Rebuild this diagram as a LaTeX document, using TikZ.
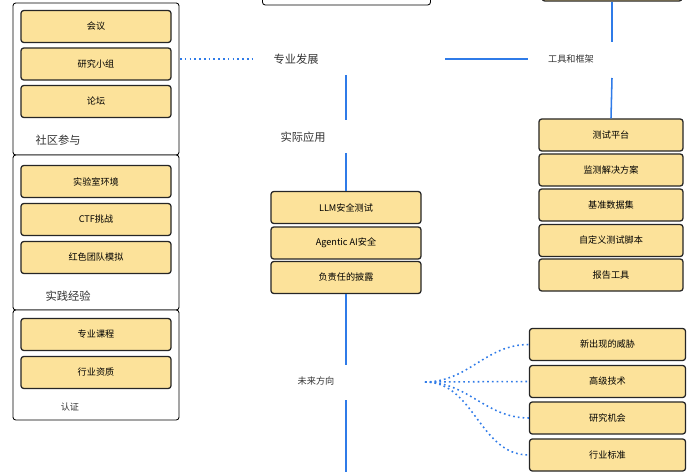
\documentclass[tikz,border=0pt]{standalone}
\usepackage{fontspec}
\setmainfont{Noto Sans CJK SC}
\usetikzlibrary{positioning}
\definecolor{boxfill}{HTML}{FCE29A}
\definecolor{linkblue}{HTML}{2F7BE8}
\tikzset{
	item/.style={rectangle, rounded corners=2pt, fill=boxfill, line width=0.9pt, draw=black!85, minimum height=0.8cm, inner sep=1pt, align=center, font=\fontsize{6.5}{7}\selectfont},
	group/.style={rectangle, rounded corners=2pt, fill=white, line width=0.6pt, draw=black},
	topic/.style={font=\fontsize{8}{9}\selectfont, text=black!80, inner sep=1pt},
	solidlink/.style={linkblue, line width=1.1pt},
	dotlink/.style={linkblue, line width=1.1pt, dash pattern=on 1.2pt off 2.2pt}
}
\begin{document}
\begin{tikzpicture}[x=0.025cm, y=-0.025cm]
		\useasboundingbox (0,0) rectangle (692,472);
		\clip (0,0) rectangle (692,472);
		% partial boxes at the top
		\node[group, minimum width=4.2cm, minimum height=1cm](topbox) at (346.5,-15){};
		\node[item, minimum width=3.5cm](toptool) at (612,-15){};
		% left column groups
		\node[group, minimum width=4.15cm, minimum height=3.8cm](community) at (96,79){};
		\node[group, minimum width=4.15cm, minimum height=3.875cm](practice) at (96,232.5){};
		\node[group, minimum width=4.15cm, minimum height=2.75cm](cert) at (96,365){};
		\node[item, minimum width=3.75cm](meeting)  at (96,26.5){会议};
		\node[item, minimum width=3.75cm](study)    at (96,64){研究小组};
		\node[item, minimum width=3.75cm](forum)    at (96,101.5){论坛};
		\node[topic, anchor=west](communitylbl) at (34,140){社区参与};
		\node[item, minimum width=3.75cm](lab)      at (96,181.5){实验室环境};
		\node[item, minimum width=3.75cm](ctf)      at (96,219.5){CTF挑战};
		\node[item, minimum width=3.75cm](redteam)  at (96,257.5){红色团队模拟};
		\node[topic](practicelbl) at (68,296){实践经验};
		\node[item, minimum width=3.75cm](course)   at (96,334.5){专业课程};
		\node[item, minimum width=3.75cm](qualify)  at (96,372.5){行业资质};
		\node[topic, font=\fontsize{6.5}{7}\selectfont](certlbl) at (70,407){认证};
		% centre column
		\node[topic](career) at (296,59){专业发展};
		\node[topic](apply)  at (303,137){实际应用};
		\node[item, minimum width=3.75cm](llm)     at (346,207.5){LLM安全测试};
		\node[item, minimum width=3.75cm](agentic) at (346,243){Agentic AI安全};
		\node[item, minimum width=3.75cm](disclose) at (346,277.5){负责任的披露};
		\node[topic, font=\fontsize{6.5}{7}\selectfont](future) at (316,381){未来方向};
		% right column
		\node[topic, font=\fontsize{6.5}{7}\selectfont](tools) at (571,59){工具和框架};
		\node[item, minimum width=3.6cm](platform) at (611,135){测试平台};
		\node[item, minimum width=3.6cm](monitor)  at (611,170){监测解决方案};
		\node[item, minimum width=3.6cm](bench)    at (611,205){基准数据集};
		\node[item, minimum width=3.6cm](script)   at (611,240.5){自定义测试脚本};
		\node[item, minimum width=3.6cm](report)   at (611,275){报告工具};
		\node[item, minimum width=3.9cm](threat)   at (607.5,344.5){新出现的威胁};
		\node[item, minimum width=3.9cm](advanced) at (607.5,381.5){高级技术};
		\node[item, minimum width=3.9cm](research) at (607.5,418){研究机会};
		\node[item, minimum width=3.9cm](standard) at (607.5,455){行业标准};
		% link ends
		\coordinate(c0) at (180,59);
		\coordinate(c1) at (252,59);
		\coordinate(c2) at (445,59);
		\coordinate(c3) at (528,59);
		\coordinate(c4) at (612,42);
		\coordinate(c5) at (612,78);
		\coordinate(c6) at (346,75);
		\coordinate(c7) at (346,120);
		\coordinate(c8) at (346,153);
		\coordinate(c9) at (346,365);
		\coordinate(c10) at (346,400);
		\coordinate(c11) at (346,472);
		\coordinate(fan) at (425,382);
		% links
		\draw[dotlink] (c0) -- (c1);
		\draw[solidlink] (c2) -- (c3);
		\draw[solidlink] (toptool.south) -- (c4);
		\draw[solidlink] (c5) -- (platform.north);
		\draw[solidlink] (c6) -- (c7);
		\draw[solidlink] (c8) -- (llm.north);
		\draw[solidlink] (disclose.south) -- (c9);
		\draw[solidlink] (c10) -- (c11);
		\draw[dotlink] (fan) to[out=0, in=180] (threat.west);
		\draw[dotlink] (fan) -- (advanced.west);
		\draw[dotlink] (fan) to[out=0, in=180] (research.west);
		\draw[dotlink] (fan) to[out=0, in=180] (standard.west);
	\end{tikzpicture}
\end{document}
